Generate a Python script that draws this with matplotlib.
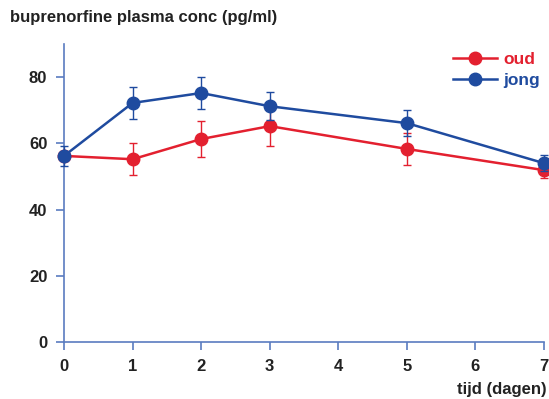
import matplotlib.pyplot as plt
from matplotlib.lines import Line2D

days = [0, 1, 2, 3, 5, 7]
oud = [56.2, 55.2, 61.3, 65.2, 58.3, 51.9]
oud_err = [0, 4.8, 5.4, 5.9, 4.8, 2.5]
jong = [56.2, 72.2, 75.2, 71.2, 66.1, 54.0]
jong_err = [3.0, 4.8, 4.7, 4.2, 3.9, 2.5]

red = '#e3202f'
blue = '#1f4b9f'
axcol = '#5a7cc0'

plt.rcParams['font.family'] = ['Liberation Sans', 'DejaVu Sans']

fig = plt.figure(figsize=(5.49, 3.99), dpi=100)
ax = fig.add_axes([0.1166, 0.1429, 0.8744, 0.7468])

ax.errorbar(days, oud, yerr=oud_err, color=red, lw=1.8, marker='o', ms=9,
            capsize=3, elinewidth=1.0, capthick=1.0, zorder=3)
ax.errorbar(days, jong, yerr=jong_err, color=blue, lw=1.8, marker='o', ms=9,
            capsize=3, elinewidth=1.0, capthick=1.0, zorder=4)

ax.set_xlim(0, 7)
ax.set_ylim(0, 90)
ax.set_xticks(range(8))
ax.set_yticks([0, 20, 40, 60, 80])
for s in ['top', 'right']:
    ax.spines[s].set_visible(False)
for s in ['left', 'bottom']:
    ax.spines[s].set_color(axcol)
    ax.spines[s].set_linewidth(1.2)
ax.tick_params(colors=axcol, length=6, width=1.2, labelcolor='#222222',
               labelsize=12, pad=6)
for lbl in ax.get_xticklabels() + ax.get_yticklabels():
    lbl.set_fontweight('bold')
for c in ax.get_children():
    try:
        c.set_clip_on(False)
    except Exception:
        pass

fig.text(0.018, 0.955, 'buprenorfine plasma conc (pg/ml)', fontsize=12,
         fontweight='bold', color='#222222', va='center', ha='left')
fig.text(0.995, 0.025, 'tijd (dagen)', fontsize=12, fontweight='bold',
         color='#222222', va='center', ha='right')

handles = [Line2D([], [], color=red, lw=1.8, marker='o', ms=9),
           Line2D([], [], color=blue, lw=1.8, marker='o', ms=9)]
leg = ax.legend(handles, ['oud', 'jong'], loc='upper right', frameon=False,
                fontsize=12.5, handlelength=2.5, handletextpad=0.4,
                labelspacing=0.3, bbox_to_anchor=(1.025, 1.025))
for t, c in zip(leg.get_texts(), [red, blue]):
    t.set_color(c)
    t.set_fontweight('bold')

fig.savefig('out.png', dpi=100)
